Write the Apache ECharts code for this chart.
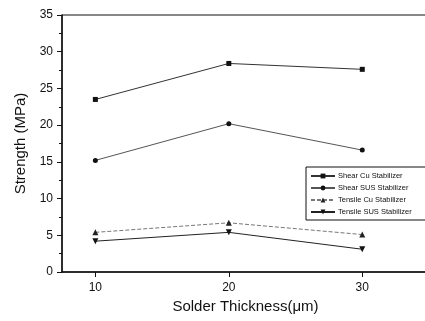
<!DOCTYPE html>
<html><head><meta charset="utf-8">
<script src="https://cdn.jsdelivr.net/npm/echarts@6/dist/echarts.min.js"></script>
<style>html,body{margin:0;padding:0;background:#fff}#c{width:425px;height:321px}</style>
</head><body><div id="c"></div>
<script>
const thickness = [10, 20, 30];
const shearCu = [23.5, 28.4, 27.6];
const shearSUS = [15.2, 20.2, 16.6];
const tensileCu = [5.4, 6.7, 5.1];
const tensileSUS = [4.2, 5.4, 3.1];
const seriesNames = ['Shear Cu Stabilizer', 'Shear SUS Stabilizer', 'Tensile Cu Stabilizer', 'Tensile SUS Stabilizer'];
const xTicks = [10, 20, 30];

const pair = arr => thickness.map((t, i) => [t, arr[i]]);
const font = 'Liberation Sans, Arial, sans-serif';
const chart = echarts.init(document.getElementById('c'), null, {renderer: 'canvas'});
chart.setOption({
  animation: false,
  backgroundColor: '#fff',
  grid: {left: 62, top: 15, right: -4, bottom: 49, outerBoundsMode: 'none', containLabel: false,
         show: true, borderColor: '#111', borderWidth: 1, backgroundColor: 'transparent'},
  xAxis: {
    type: 'value', min: 7.5, max: 35,
    name: 'Solder Thickness(\u03bcm)', nameLocation: 'middle', nameGap: 27,
    nameTextStyle: {fontFamily: font, fontSize: 15, color: '#111'},
    axisLine: {lineStyle: {color: '#111', width: 1.5}},
    axisTick: {inside: false, length: 5, customValues: xTicks, lineStyle: {color: '#111'}},
    axisLabel: {customValues: xTicks, fontFamily: font, fontSize: 12, color: '#111', margin: 10},
    splitLine: {show: false}
  },
  yAxis: {
    type: 'value', min: 0, max: 35, interval: 5,
    name: 'Strength (MPa)', nameLocation: 'middle', nameGap: 30,
    nameTextStyle: {fontFamily: font, fontSize: 15, color: '#111'},
    axisLine: {show: true, lineStyle: {color: '#111', width: 1.5}},
    axisTick: {inside: false, length: 5, lineStyle: {color: '#111'}},
    minorTick: {show: true, splitNumber: 2, length: 3, lineStyle: {color: '#111'}},
    axisLabel: {fontFamily: font, fontSize: 12, color: '#111', margin: 9},
    splitLine: {show: false}
  },
  legend: {
    orient: 'vertical', left: 306, top: 167,
    padding: [5, 16, 4, 4], itemGap: 4, itemWidth: 24, itemHeight: 6,
    borderColor: '#111', borderWidth: 1, backgroundColor: '#fff',
    textStyle: {fontFamily: font, fontSize: 7.5, color: '#111', padding: [0, 0, 0, -2]},
    data: seriesNames
  },
  series: [
    {name: seriesNames[0], type: 'line', data: pair(shearCu), symbol: 'rect', symbolSize: 5,
     itemStyle: {color: '#111'}, lineStyle: {color: '#333', width: 1}},
    {name: seriesNames[1], type: 'line', data: pair(shearSUS), symbol: 'circle', symbolSize: 5,
     itemStyle: {color: '#111'}, lineStyle: {color: '#555', width: 1}},
    {name: seriesNames[2], type: 'line', data: pair(tensileCu), symbol: 'triangle', symbolSize: 6,
     itemStyle: {color: '#222'}, lineStyle: {color: '#777', width: 1, type: [4, 2]}},
    {name: seriesNames[3], type: 'line', data: pair(tensileSUS), symbol: 'triangle', symbolRotate: 180, symbolSize: 6,
     itemStyle: {color: '#111'}, lineStyle: {color: '#222', width: 1}}
  ]
});
</script></body></html>
